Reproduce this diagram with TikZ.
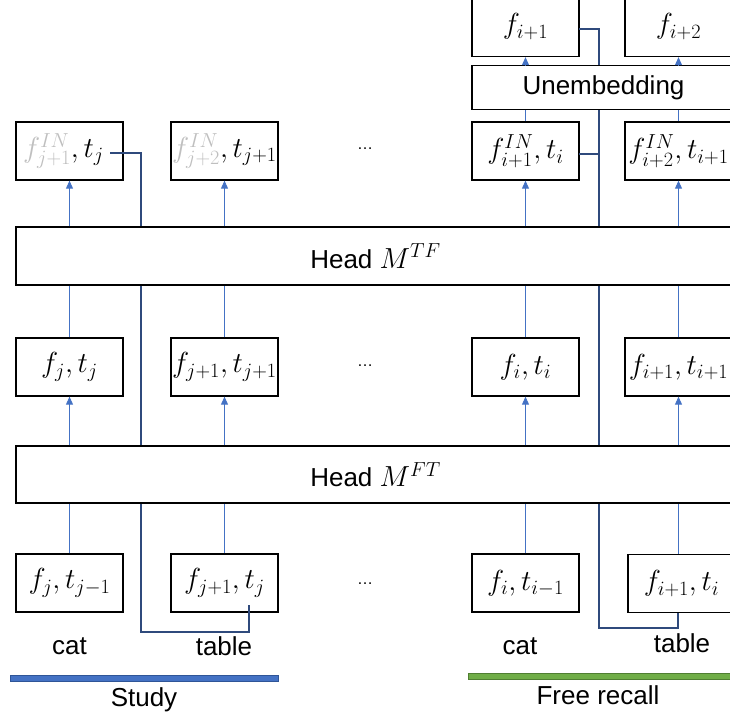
\RequirePackage{fix-cm}
\documentclass[tikz,border=0pt]{standalone}
\usepackage{fontspec}
\newfontfamily\lblfont{Liberation Sans}
\usetikzlibrary{arrows.meta}
\definecolor{ablue}{HTML}{4472C4}
\definecolor{residc}{HTML}{2F4A7C}
\definecolor{lgray}{HTML}{BFBFBF}
\definecolor{sbar}{HTML}{4472C4}
\definecolor{sbarb}{HTML}{2F5597}
\definecolor{gbar}{HTML}{70AD47}
\definecolor{gbarb}{HTML}{507E32}
\begin{document}
\begin{tikzpicture}[x=1pt,y=-1pt,
  cell/.style={draw=black, line width=1.3pt, fill=white, minimum width=107pt, minimum height=58pt, inner sep=0pt, font=\fontsize{29}{33}\selectfont},
  wide/.style={draw=black, line width=1.3pt, fill=white, inner sep=0pt, font=\lblfont\fontsize{26}{30}\selectfont},
  up/.style={draw=ablue, line width=0.9pt, -{Triangle[width=7pt,length=8pt]}},
  link/.style={draw=ablue, line width=0.8pt},
  resid/.style={draw=residc, line width=1.4pt},
  lbl/.style={font=\lblfont\fontsize{26}{30}\selectfont, inner sep=0pt},
  dots/.style={font=\lblfont\fontsize{16}{18}\selectfont, inner sep=0pt, anchor=base}]
\clip (0,0) rectangle (730,719);

% output boxes
\node[cell, minimum height=60pt] (o1) at (525.5,26.5) {$f_{i+1}$};
\node[cell, minimum height=60pt] (o2) at (678.5,26.5) {$f_{i+2}$};

% top row
\node[cell] (t1) at (69.5,151) {$\textcolor{lgray}{f^{IN}_{j+1}},t_j$\hspace*{12pt}};
\node[cell] (t2) at (224.5,151) {$\textcolor{lgray}{f^{IN}_{j+2}},t_{j+1}$};
\node[cell] (t3) at (525.5,151) {$f^{IN}_{i+1},t_i$};
\node[cell] (t4) at (678.5,151) {$f^{IN}_{i+2},t_{i+1}$};
\node[dots] (d1) at (365,150) {…};

% middle row
\node[cell] (m1) at (69.5,367) {$f_j,t_j$};
\node[cell] (m2) at (224.5,367) {$f_{j+1},t_{j+1}$};
\node[cell] (m3) at (525.5,367) {$f_i,t_i$};
\node[cell] (m4) at (678.5,367) {$f_{i+1},t_{i+1}$};
\node[dots] (d2) at (365,366) {…};

% bottom row
\node[cell] (b1) at (69.5,583) {$f_j,t_{j-1}$};
\node[cell] (b2) at (224.5,583) {$f_{j+1},t_j$};
\node[cell] (b3) at (525.5,583) {$f_i,t_{i-1}$};
\node[cell] (b4) at (681.5,583.5) {$f_{i+1},t_i$};
\node[dots] (d3) at (365,584) {…};

% residual (dark) paths
\coordinate (sA) at (249,605);
\coordinate (sB) at (110,153);
\draw[resid] (sA) -- (249,632) -| (141,153) -- (sB);
\coordinate (rA) at (678,613);
\coordinate (rB) at (579,29);
\draw[resid] (rA) -- (678,628) -| (599,29) -- (rB);
\coordinate (rC) at (579,154);
\draw[resid] (rC) -- (599,154);

% wide blocks
\node[wide, minimum width=719pt, minimum height=58pt] (htf) at (375.5,256) {Head {\fontsize{29}{33}\selectfont$M^{TF}$}};
\node[wide, minimum width=719pt, minimum height=57pt] (hft) at (375.5,474.5) {Head {\fontsize{29}{33}\selectfont$M^{FT}$}};
\node[wide, minimum width=263pt, minimum height=44pt] (un) at (603.5,87.5) {Unembedding};

% blue connectors
\foreach \c in {m1,m2,m3,m4}{
  \draw[up] (hft.north -| \c) -- (\c.south);
  \draw[link] (\c.north) -- (htf.south -| \c);
}
\foreach \c in {t1,t2,t3,t4}{
  \draw[up] (htf.north -| \c) -- (\c.south);
}
\draw[link] (t3.north) -- (un.south -| t3);
\draw[link] (t4.north) -- (un.south -| t4);
\draw[up] (un.north -| o1) -- (o1.south);
\draw[up] (un.north -| o2) -- (o2.south);
\foreach \c in {b1,b2,b3}{
  \draw[link] (\c.north) -- (hft.south -| \c);
}
\draw[link] (b4.north -| m4) -- (hft.south -| m4);

% labels
\node[lbl] (c1) at (69.5,646) {cat};
\node[lbl] (tb1) at (224,646) {table};
\node[lbl] (c2) at (520,646) {cat};
\node[lbl] (tb2) at (682,643) {table};

% phase bars
\draw[sbarb, fill=sbar, line width=0.8pt] (10,675) rectangle (278,681);
\draw[gbarb, fill=gbar, line width=0.8pt] (468,673) rectangle (740,679);
\node[lbl] (study) at (144,700) {Study};
\node[lbl] (free) at (598,695) {Free recall};
\end{tikzpicture}
\end{document}
